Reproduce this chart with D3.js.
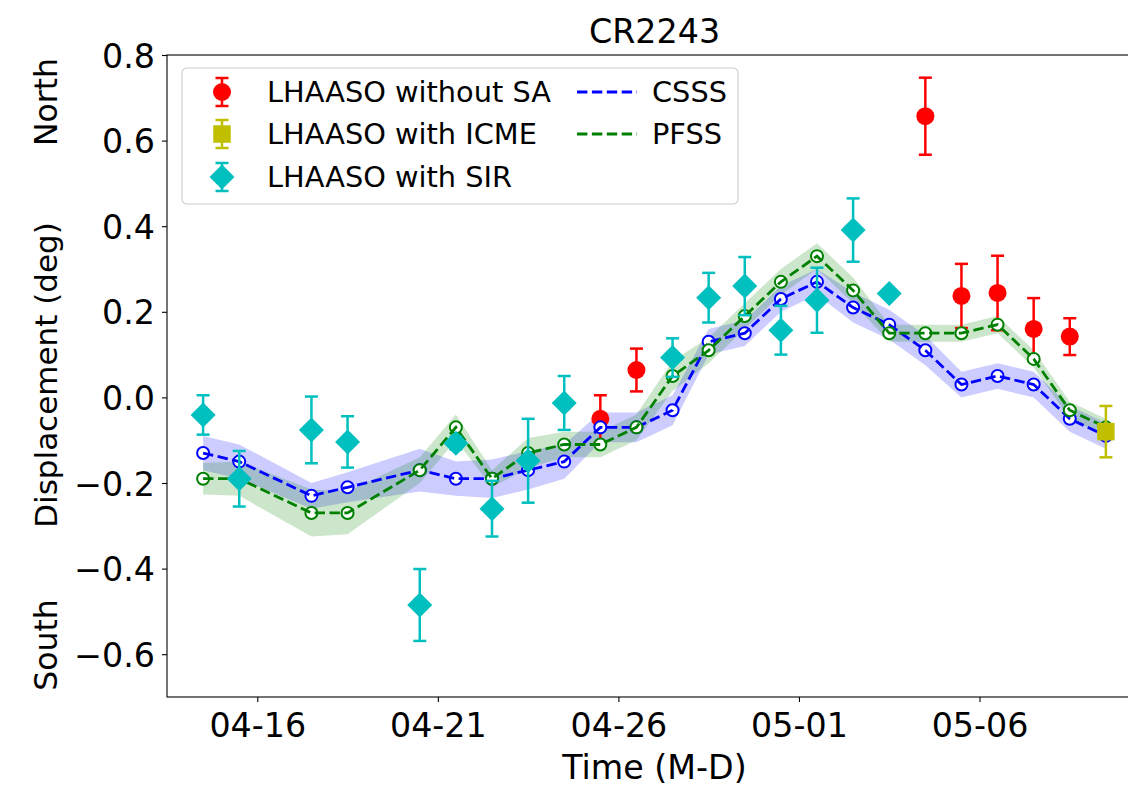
<!DOCTYPE html>
<html>
<head>
<meta charset="utf-8">
<script src="https://cdn.jsdelivr.net/npm/d3@7"></script>
<style>
  html, body { margin: 0; padding: 0; background: #fff; }
  svg { display: block; font-family: "DejaVu Sans", sans-serif; }
</style>
</head>
<body>
<svg id="chart" width="1128" height="787"></svg>
<script>
// ---------- data ----------
const title = "CR2243";
const modelDates = ["04-14","04-15","04-17","04-18","04-20","04-21","04-22","04-23","04-24","04-25","04-26","04-27",
                    "04-28","04-29","04-30","05-01","05-02","05-03","05-04","05-05","05-06","05-07","05-08","05-09"];
const csss    = [-0.13,-0.15,-0.23,-0.21,-0.17,-0.19,-0.19,-0.17,-0.15,-0.07,-0.07,-0.03,
                  0.13, 0.15, 0.23, 0.27, 0.21, 0.17, 0.11, 0.03, 0.05, 0.03,-0.05,-0.09];
const csssErr = [0.04,0.04,0.03,0.035,0.05,0.04,0.045,0.045,0.04,0.035,0.035,0.035,
                 0.03,0.03,0.03,0.03,0.035,0.035,0.035,0.03,0.03,0.03,0.03,0.03];
const pfss    = [-0.19,-0.19,-0.27,-0.27,-0.17,-0.07,-0.19,-0.13,-0.11,-0.11,-0.07,0.05,
                  0.11, 0.19, 0.27, 0.33, 0.25, 0.15, 0.15, 0.15, 0.17, 0.09,-0.03,-0.07];
const pfssErr = [0.037,0.04,0.055,0.05,0.03,0.03,0.02,0.035,0.03,0.03,0.03,0.035,
                 0.03,0.03,0.03,0.03,0.03,0.02,0.02,0.02,0.02,0.02,0.02,0.02];

const noSADates = ["04-25","04-26","05-04","05-05","05-06","05-07","05-08"];
const noSAVals  = [-0.05, 0.064, 0.657, 0.237, 0.244, 0.16, 0.142];
const noSAErr   = [0.055, 0.05, 0.09, 0.075, 0.087, 0.072, 0.043];

const icmeDates = ["05-09"];
const icmeVals  = [-0.08];
const icmeErr   = [0.06];

const sirDates = ["04-14","04-15","04-17","04-18","04-20","04-21","04-22","04-23","04-24",
                  "04-27","04-28","04-29","04-30","05-01","05-02","05-03"];
const sirVals  = [-0.041,-0.19,-0.076,-0.104,-0.485,-0.107,-0.26,-0.148,-0.013,
                   0.093, 0.233, 0.26, 0.157, 0.227, 0.391, 0.243];
const sirErr   = [0.046,0.065,0.078,0.06,0.084,0.015,0.065,0.098,0.063,
                  0.045,0.058,0.068,0.057,0.076,0.074,0.008];

const xTickLabels = ["04-16","04-21","04-26","05-01","05-06"];
const yTicks = [-0.6,-0.4,-0.2,0.0,0.2,0.4,0.6,0.8];

// ---------- setup ----------
const parseNoon = d3.timeParse("%Y-%m-%d %H");
const noon = s => parseNoon("2021-" + s + " 12");
const parseDay = d3.timeParse("%Y-%m-%d");
const day = s => parseDay("2021-" + s);

const svg = d3.select("#chart");
const M = {left: 167, right: 1142, top: 55, bottom: 697};
const FS = 33.3;
const DASH = "10.4,4.5";
const LW = 2.8;

const x = d3.scaleTime()
  .domain([parseNoon("2021-04-13 12"), parseNoon("2021-05-10 12")])
  .range([M.left, M.right]);
const y = d3.scaleLinear().domain([-0.7, 0.8]).range([M.bottom, M.top]);

const COL = {red: "#ff0000", yel: "#bfbf00", cyan: "#00bfbf", blue: "#0000ff", green: "#008000"};

svg.append("defs").append("clipPath").attr("id", "clip")
  .append("rect").attr("x", M.left).attr("y", M.top)
  .attr("width", M.right - M.left).attr("height", M.bottom - M.top);

const plot = svg.append("g").attr("clip-path", "url(#clip)");

// ---------- model bands ----------
function band(vals, errs, color) {
  const rows = modelDates.map((d, i) => ({t: noon(d), v: vals[i], e: errs[i]}));
  const area = d3.area().x(r => x(r.t)).y0(r => y(r.v - r.e)).y1(r => y(r.v + r.e));
  plot.append("path").datum(rows).attr("d", area)
    .attr("fill", color).attr("fill-opacity", 0.2).attr("stroke", "none");
}
band(csss, csssErr, COL.blue);
band(pfss, pfssErr, COL.green);

// ---------- errorbar series ----------
function errorbars(dates, vals, errs, color) {
  const rows = dates.map((d, i) => ({t: noon(d), v: vals[i], e: errs[i]}));
  const g = plot.append("g");
  g.selectAll("line.bar").data(rows).join("line")
    .attr("x1", r => x(r.t)).attr("x2", r => x(r.t))
    .attr("y1", r => y(r.v - r.e)).attr("y2", r => y(r.v + r.e))
    .attr("stroke", color).attr("stroke-width", 2.5);
  [-1, 1].forEach(s => {
    g.selectAll("line.cap" + s).data(rows).join("line")
      .attr("x1", r => x(r.t) - 6.5).attr("x2", r => x(r.t) + 6.5)
      .attr("y1", r => y(r.v + s * r.e)).attr("y2", r => y(r.v + s * r.e))
      .attr("stroke", color).attr("stroke-width", 2.5);
  });
  return {g, rows};
}
function markerPath(type) {
  if (type === "circle") return d3.symbol().type(d3.symbolCircle).size(Math.PI * 9 * 9)();
  if (type === "square") return d3.symbol().type(d3.symbolSquare).size(17.5 * 17.5)();
  const h = 12.5; // diamond half-diagonal
  return `M0,${-h}L${h},0L0,${h}L${-h},0Z`;
}
function markers(g, rows, type, color) {
  g.selectAll("path.mk").data(rows).join("path")
    .attr("d", markerPath(type))
    .attr("transform", r => `translate(${x(r.t)},${y(r.v)})`)
    .attr("fill", color).attr("stroke", "none");
}

const red = errorbars(noSADates, noSAVals, noSAErr, COL.red);
markers(red.g, red.rows, "circle", COL.red);

// ---------- model lines ----------
function modelLine(vals, color) {
  const rows = modelDates.map((d, i) => ({t: noon(d), v: vals[i]}));
  const line = d3.line().x(r => x(r.t)).y(r => y(r.v));
  const g = plot.append("g");
  g.selectAll("circle").data(rows).join("circle")
    .attr("cx", r => x(r.t)).attr("cy", r => y(r.v)).attr("r", 6)
    .attr("fill", "#fff").attr("stroke", color).attr("stroke-width", 2);
  g.append("path").datum(rows).attr("d", line)
    .attr("fill", "none").attr("stroke", color).attr("stroke-width", LW)
    .attr("stroke-dasharray", DASH);
}
modelLine(csss, COL.blue);
modelLine(pfss, COL.green);

const yel = errorbars(icmeDates, icmeVals, icmeErr, COL.yel);
markers(yel.g, yel.rows, "square", COL.yel);
const cy = errorbars(sirDates, sirVals, sirErr, COL.cyan);
markers(cy.g, cy.rows, "diamond", COL.cyan);

// ---------- axes ----------
const xAxis = d3.axisBottom(x)
  .tickValues(xTickLabels.map(day))
  .tickFormat(d3.timeFormat("%m-%d"))
  .tickSize(5).tickSizeOuter(0).tickPadding(5);
const yAxis = d3.axisLeft(y)
  .tickValues(yTicks)
  .tickFormat(d3.format(".1f"))
  .tickSize(5).tickSizeOuter(0).tickPadding(7);

const gx = svg.append("g").attr("transform", `translate(0,${M.bottom})`).call(xAxis);
const gy = svg.append("g").attr("transform", `translate(${M.left},0)`).call(yAxis);
[gx, gy].forEach(g => {
  g.select(".domain").remove();
  g.selectAll(".tick line").attr("stroke", "#000").attr("stroke-width", 1.1);
  g.selectAll(".tick text").attr("fill", "#000").style("font-size", FS + "px")
    .style("font-family", "DejaVu Sans");
});
gx.selectAll(".tick text").attr("dy", "0.9em");
gy.selectAll(".tick text").attr("dy", "0.36em");

// spines
svg.append("rect").attr("x", M.left).attr("y", M.top)
  .attr("width", M.right - M.left).attr("height", M.bottom - M.top)
  .attr("fill", "none").attr("stroke", "#000").attr("stroke-width", 1.1);

// ---------- labels ----------
svg.append("text").attr("x", (M.left + M.right) / 2).attr("y", 43)
  .attr("text-anchor", "middle").style("font-size", FS + "px").text(title);
svg.append("text").attr("x", (M.left + M.right) / 2).attr("y", 779)
  .attr("text-anchor", "middle").style("font-size", FS + "px").text("Time (M-D)");
const ylab = (txt, cyPos, fs) => svg.append("text")
  .attr("transform", `translate(57,${cyPos}) rotate(-90)`)
  .attr("text-anchor", "middle").style("font-size", fs + "px").text(txt);
ylab("Displacement (deg)", 375, 31);
ylab("North", 102, 31.5);
ylab("South", 645, 31.5);

// ---------- legend ----------
const lg = svg.append("g");
lg.append("rect").attr("x", 182).attr("y", 68).attr("width", 556).attr("height", 136)
  .attr("rx", 5).attr("fill", "#fff").attr("fill-opacity", 0.8)
  .attr("stroke", "#cccccc").attr("stroke-width", 1.1);
const legendData = [
  {label: "LHAASO without SA", color: COL.red, type: "circle", yy: 92},
  {label: "LHAASO with ICME", color: COL.yel, type: "square", yy: 134},
  {label: "LHAASO with SIR", color: COL.cyan, type: "diamond", yy: 177}
];
legendData.forEach(d => {
  const mx = 222;
  lg.append("line").attr("x1", mx).attr("x2", mx).attr("y1", d.yy - 14).attr("y2", d.yy + 14)
    .attr("stroke", d.color).attr("stroke-width", 2.5);
  [-14, 14].forEach(o => lg.append("line").attr("x1", mx - 6.5).attr("x2", mx + 6.5)
    .attr("y1", d.yy + o).attr("y2", d.yy + o).attr("stroke", d.color).attr("stroke-width", 2.5));
  lg.append("path").attr("d", markerPath(d.type)).attr("transform", `translate(${mx},${d.yy})`)
    .attr("fill", d.color);
  lg.append("text").attr("x", 267).attr("y", d.yy).attr("dy", "0.36em")
    .style("font-size", "28.8px").text(d.label);
});
[{label: "CSSS", color: COL.blue, yy: 92}, {label: "PFSS", color: COL.green, yy: 134}].forEach(d => {
  lg.append("line").attr("x1", 577).attr("x2", 637).attr("y1", d.yy).attr("y2", d.yy)
    .attr("stroke", d.color).attr("stroke-width", LW).attr("stroke-dasharray", DASH);
  lg.append("text").attr("x", 652).attr("y", d.yy).attr("dy", "0.36em")
    .style("font-size", "28.8px").text(d.label);
});
</script>
</body>
</html>
